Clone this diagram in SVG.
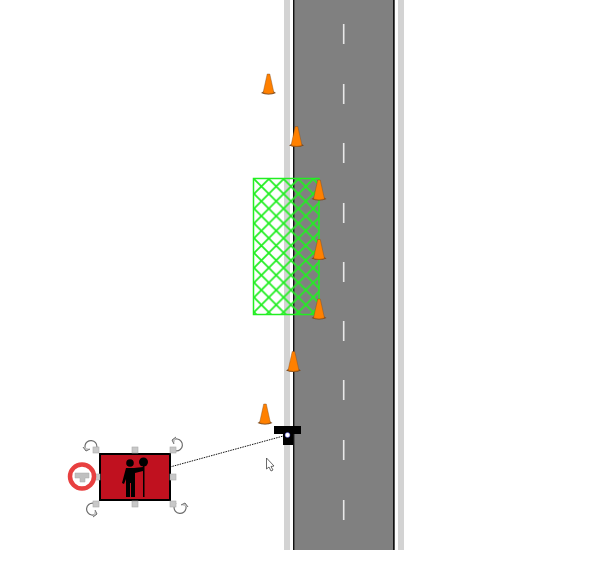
<svg xmlns="http://www.w3.org/2000/svg" width="600" height="566" viewBox="0 0 600 566">
<defs>
<pattern id="mesh" width="14.800" height="14.800" patternUnits="userSpaceOnUse" x="254" y="179">
<path d="M-2 2L2-2M-2 16.800L16.800-2M12.800 16.800L16.800 12.800M-2 12.800L2 16.800M-2-2L16.800 16.800M12.800-2L16.800 2" fill="none" stroke="#22ee22" stroke-width="1.800"/>
</pattern>
<g id="cone">
<path d="M-7.500 8.500Q0 11.500 7.500 8.500L3.500 6H-3.500Z" fill="#7a4a20"/>
<path d="M-1.300-10.500H1.300L5.500 8.500Q0 10.300-5.500 8.500Z" fill="#ff8000" stroke="#7a4a20" stroke-width=".4"/>
</g>
<g id="rot"><path d="M-5 4A6 6 0 1 1 4 5" fill="none" stroke="#6e6e6e" stroke-width="1.200"/><path d="M-8 1L-5 5L-1 3" fill="#c8c8c8" stroke="#6e6e6e" stroke-width="1"/></g>
</defs>
<style>
.dash{stroke:#e8e8e8;stroke-width:1.600}
.handle{fill:#c8c8c8;stroke:#aaa;stroke-width:.6}
</style>
<g id="road">
<rect x="284" y="0" width="6" height="550" fill="#d3d3d3"/>
<rect x="398" y="0" width="6" height="550" fill="#d3d3d3"/>
<rect x="293" y="0" width="102" height="550" fill="#808080"/>
<rect x="293" y="0" width="1.400" height="550" fill="#111"/>
<rect x="393" y="0" width="1.400" height="550" fill="#111"/>
<path class="dash" d="M343.700 24V44M343.700 84V104M343.700 143V163M343.700 203V223M343.700 262V282M343.700 321V341M343.700 380V400M343.700 440V460M343.700 500V520"/>
</g>
<g id="work-zone"><rect x="253.500" y="178.500" width="65.500" height="136" fill="url(#mesh)" stroke="#22ee22" stroke-width="1.500"/></g>
<g id="cone-1"><use href="#cone" x="268.500" y="84.500"/></g>
<g id="cone-2"><use href="#cone" x="296.500" y="137"/></g>
<g id="cone-3"><use href="#cone" x="319" y="190.500"/></g>
<g id="cone-4"><use href="#cone" x="319" y="250"/></g>
<g id="cone-5"><use href="#cone" x="319" y="309.500"/></g>
<g id="cone-6"><use href="#cone" x="293.500" y="362"/></g>
<g id="cone-7"><use href="#cone" x="265" y="414.500"/></g>
<g id="connectors"><path d="M170 467L287 435" fill="none" stroke="#111" stroke-width="1" stroke-dasharray="1.500 1"/></g>
<g id="signal-head">
<path d="M274 426H301V434H293V445H283V434H274Z" fill="#000"/>
<circle cx="287.500" cy="435" r="2.500" fill="#fff" stroke="#33c" stroke-width=".5"/>
</g>
<g id="cursor"><path d="M266.500 458V469L269 467L271 471L273 470L271 466.500L274 466Z" fill="#fff" stroke="#444" stroke-width=".8"/></g>
<g id="flagger">
<use href="#rot" x="91" y="446"/>
<g transform="translate(177 445) rotate(90)"><use href="#rot"/></g>
<g transform="translate(92 509) rotate(-90)"><use href="#rot"/></g>
<g transform="translate(180 508) rotate(180)"><use href="#rot"/></g>
<rect x="100" y="454" width="70" height="46" fill="#c0111f" stroke="#000" stroke-width="2"/>
<circle cx="130" cy="463" r="3.800" fill="#000"/>
<circle cx="143.500" cy="462" r="4.500" fill="#000"/>
<rect x="143" y="466" width="1.500" height="31" fill="#000"/>
<path d="M126 468H134L143 467V471L135 473V497H131V483H130V497H126V479L124 484L122 483Z" fill="#000"/>
<rect class="handle" x="93" y="447" width="6" height="6"/>
<rect class="handle" x="132" y="447" width="6" height="6"/>
<rect class="handle" x="170" y="447" width="6" height="6"/>
<rect class="handle" x="170" y="474" width="6" height="6"/>
<rect class="handle" x="93" y="501" width="6" height="6"/>
<rect class="handle" x="132" y="501" width="6" height="6"/>
<rect class="handle" x="170" y="501" width="6" height="6"/>
<rect class="handle" x="94" y="474" width="6" height="6"/>
<circle cx="82" cy="476.500" r="12" fill="#fff" stroke="#e84040" stroke-width="4.500"/>
<path d="M75 473H89V478H85V482H80V478H75Z" fill="#c0c0c0" stroke="#aaa" stroke-width=".5"/>
</g>
</svg>
